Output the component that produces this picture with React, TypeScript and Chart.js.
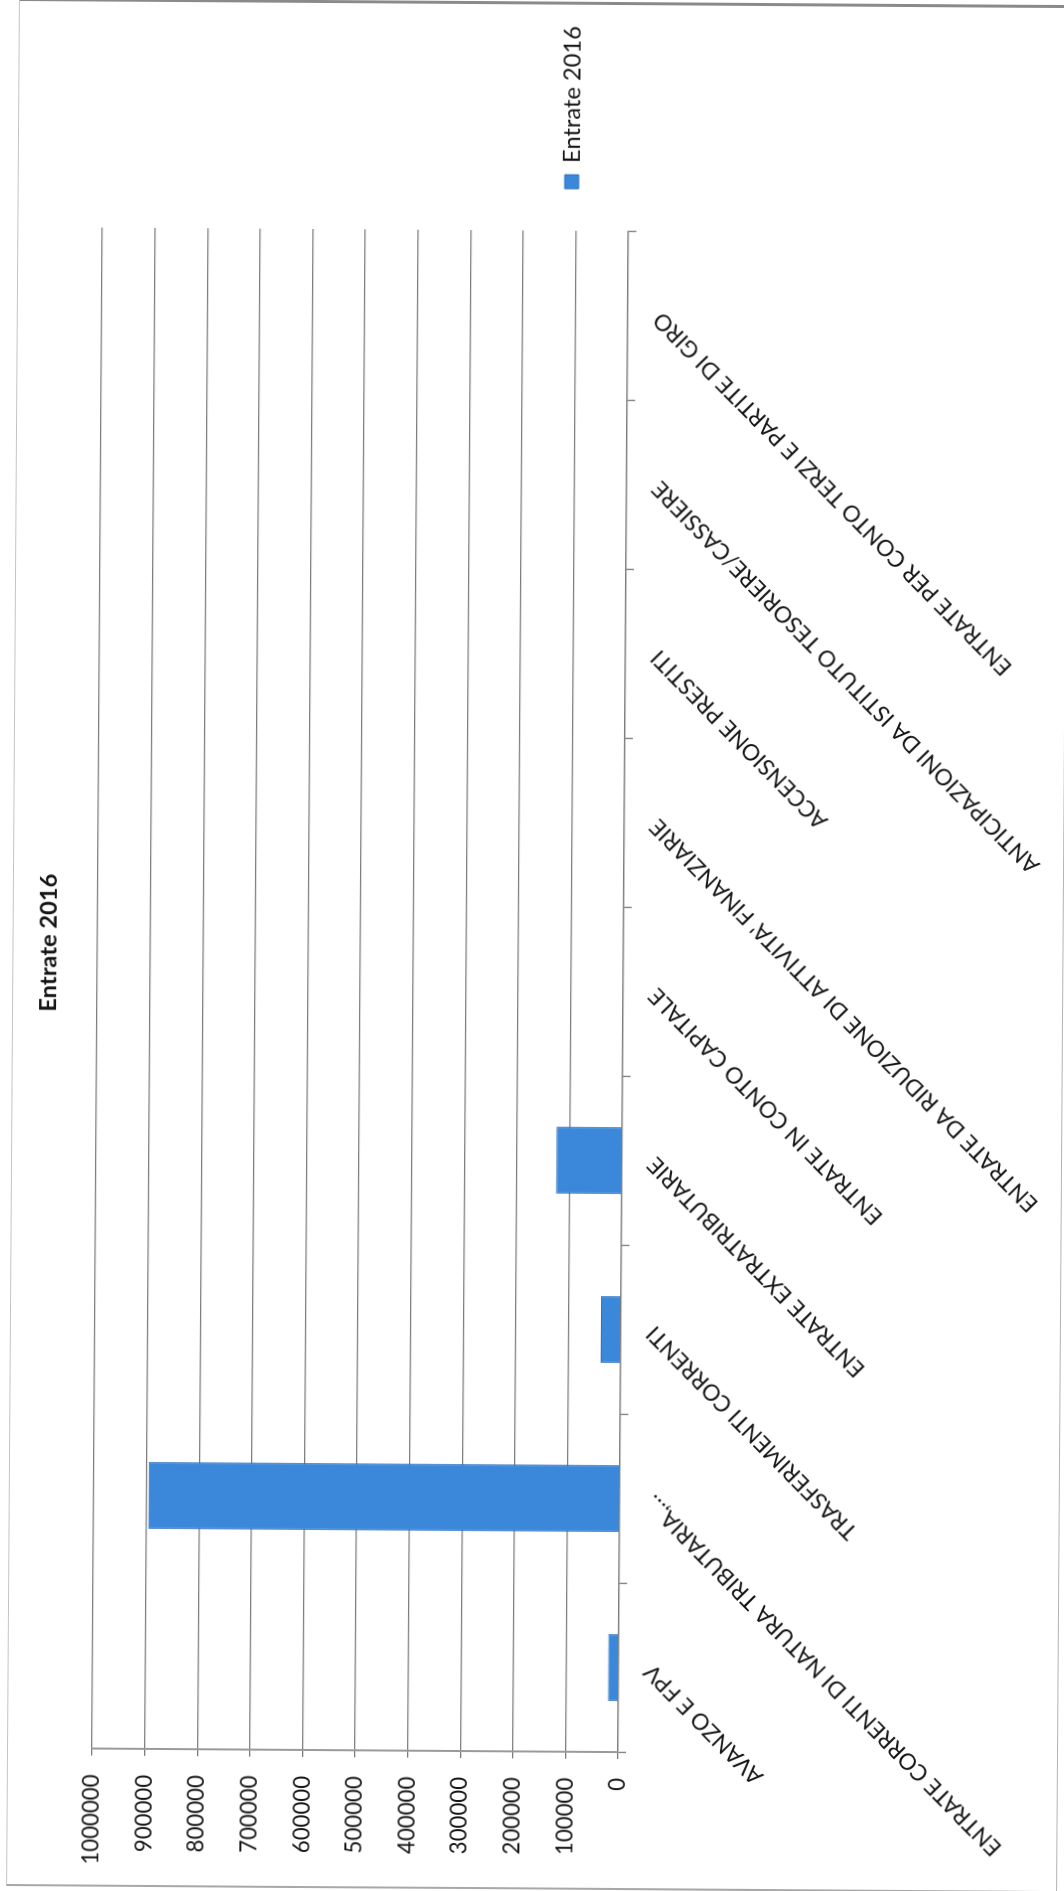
import React, { useEffect, useRef } from 'react';
import { Chart, registerables } from 'chart.js';

Chart.register(...registerables);

// ---- data ----
const categories: string[] = [
  'AVANZO E FPV',
  'ENTRATE CORRENTI DI NATURA TRIBUTARIA,…',
  'TRASFERIMENTI CORRENTI',
  'ENTRATE EXTRATRIBUTARIE',
  'ENTRATE IN CONTO CAPITALE',
  "ENTRATE DA RIDUZIONE DI ATTIVITA' FINANZIARIE",
  'ACCENSIONE PRESTITI',
  'ANTICIPAZIONI DA ISTITUTO TESORIERE/CASSIERE',
  'ENTRATE PER CONTO TERZI E PARTITE DI GIRO',
];
const entrate2016: number[] = [20000, 896000, 38000, 125000, 0, 0, 0, 0, 0];
const seriesName = 'Entrate 2016';
const chartTitle = 'Entrate 2016';
const valueMin = 0;
const valueMax = 1000000;
const valueStep = 100000;

// ---- styles ----
const W = 1891; // chart drawn in landscape, then turned on the page
const H = 1064;
const PAGE_W = 1064;
const PAGE_H = 1891;
const FAMILY = 'Lato, "Noto Sans", sans-serif';
const BAR = '#3b88da';
const BAR_EDGE = '#2d70c2';
const GRID = '#7c7c7c';
const TEXT = '#141414';

function measure(text: string, font: string): number {
  const ctx = document.createElement('canvas').getContext('2d');
  if (!ctx) return 100;
  ctx.font = font;
  return ctx.measureText(text).width || 100;
}

function fitSize(text: string, weight: string, target: number): number {
  const w = measure(text, `${weight} 100px ${FAMILY}`);
  return Math.round(((100 * target) / w) * 10) / 10;
}

export default function App() {
  const ref = useRef<HTMLCanvasElement | null>(null);

  useEffect(() => {
    if (!ref.current) return;
    const catSize = fitSize(categories[8], 'normal', 500);
    const valSize = fitSize(String(valueMax), 'normal', 90);
    const titleSize = 23.7;
    const legendSize = fitSize(seriesName, 'normal', 137);
    const titleLH = titleSize * 1.2;
    const titleCenter = 48;
    const plotTop = 97;
    const plotBottom = 623;
    const plotLeft = 140;
    const plotRight = 1661;
    const legendPad = 42;
    const legendBox = 14;
    const legendTextW = measure(seriesName, `normal ${legendSize}px ${FAMILY}`);
    const legendW = legendPad + legendBox + legendSize / 2 + legendTextW + 10;
    const sidePad = Math.max(0, W - plotRight - legendW);

    const chart = new Chart(ref.current, {
      type: 'bar',
      data: {
        labels: categories,
        datasets: [
          {
            label: seriesName,
            data: entrate2016,
            backgroundColor: BAR,
            borderColor: BAR_EDGE,
            borderWidth: 1,
            categoryPercentage: 0.79,
            barPercentage: 0.5,
          },
        ],
      },
      options: {
        responsive: false,
        animation: false,
        devicePixelRatio: 1,
        layout: { padding: { left: sidePad, right: sidePad, top: 0, bottom: 0 } },
        plugins: {
          title: {
            display: true,
            text: chartTitle,
            color: TEXT,
            font: { family: FAMILY, weight: 'bold', size: titleSize, lineHeight: 1.2 },
            padding: {
              top: titleCenter - titleLH / 2,
              bottom: plotTop - titleCenter - titleLH / 2,
            },
          },
          legend: {
            display: true,
            position: 'right',
            align: 'center',
            title: { display: true, text: '', padding: 0, font: { size: 10, lineHeight: 6.8 } },
            labels: {
              boxWidth: legendBox,
              boxHeight: legendBox,
              padding: legendPad,
              color: TEXT,
              font: { family: FAMILY, size: legendSize },
            },
          },
          tooltip: { enabled: false },
        },
        scales: {
          x: {
            offset: true,
            grid: {
              offset: true,
              drawOnChartArea: false,
              drawTicks: true,
              tickLength: 8,
              color: GRID,
              lineWidth: 1.3,
            },
            border: { display: true, color: GRID, width: 1.3 },
            ticks: {
              autoSkip: false,
              minRotation: 45,
              maxRotation: 45,
              padding: 12,
              color: TEXT,
              font: { family: FAMILY, size: catSize },
            },
            afterFit: (s: any) => {
              s.height = H - plotBottom;
            },
          },
          y: {
            min: valueMin,
            max: valueMax,
            grid: { color: GRID, lineWidth: 1.3, drawTicks: true, tickLength: 7 },
            border: { display: true, color: '#9a9a9a', width: 2 },
            ticks: {
              stepSize: valueStep,
              padding: 19,
              color: TEXT,
              font: { family: FAMILY, size: valSize },
              callback: (v: any) => String(v),
            },
            afterFit: (s: any) => {
              s.width = plotLeft - sidePad;
            },
          },
        },
      },
    } as any);
    return () => chart.destroy();
  }, []);

  return (
    <div
      style={{
        position: 'absolute',
        left: 0,
        top: 0,
        width: PAGE_W,
        height: PAGE_H,
        overflow: 'hidden',
        background: '#ffffff',
      }}
    >
      <div
        style={{
          position: 'absolute',
          left: (PAGE_W - W) / 2,
          top: (PAGE_H - H) / 2,
          width: W,
          height: H,
          transform: 'rotate(-89.61deg)',
          transformOrigin: '50% 50%',
        }}
      >
        <div
          style={{
            position: 'absolute',
            left: 2,
            top: 12,
            width: 1888,
            height: 1051,
            boxSizing: 'border-box',
            borderTop: '1px solid #c4c4c4',
            borderLeft: '2px solid #a8a8a8',
            borderRight: '3px solid #8a8a8a',
            borderBottom: '1px solid #b4b4b4',
          }}
        />
        <canvas
          ref={ref}
          width={W}
          height={H}
          style={{ position: 'absolute', left: 0, top: 0 }}
        />
      </div>
    </div>
  );
}
